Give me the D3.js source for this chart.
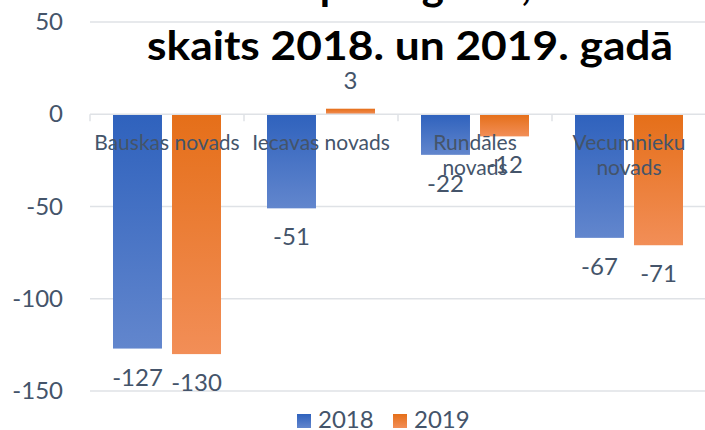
<!DOCTYPE html>
<html><head><meta charset="utf-8">
<script src="https://cdn.jsdelivr.net/npm/d3@7/dist/d3.min.js"></script>
<style>
html,body{margin:0;padding:0;background:#fff;}
svg{display:block;}
text{font-family:Lato,"Open Sans",sans-serif;}
</style></head>
<body>
<svg id="c" width="705" height="430"></svg>
<script>
const categories = ["Bauskas novads", "Iecavas novads", "Rundāles novads", "Vecumnieku novads"];
const seriesNames = ["2018", "2019"];
const values2018 = [-127, -51, -22, -67];
const values2019 = [-130, 3, -12, -71];
const yTicks = [50, 0, -50, -100, -150];
const titleLine1 = "Dabiskais pieaugums,";
const titleLine2 = "skaits 2018. un 2019. gadā";

const seriesValues = [values2018, values2019];
const colors = [["#2f62bd", "#6286cd"], ["#e56f19", "#f28e57"]];
const textColor = "#44546a";
const fmt = v => String(v); // plain hyphen-minus as in the reference

const svg = d3.select("#c");
const W = 705, H = 430;
const left = 90, right = 706;

const y = d3.scaleLinear().domain([-150, 50]).range([391, 22]);
const x0 = d3.scaleBand().domain(categories).range([left, right]).paddingInner(0).paddingOuter(0);
const x1 = d3.scaleBand().domain(seriesNames).range([23, x0.bandwidth() - 23]).paddingInner(0.17).paddingOuter(0);

// gradients
const defs = svg.append("defs");
seriesNames.forEach((s, i) => {
  const g = defs.append("linearGradient").attr("id", "g" + i)
    .attr("x1", 0).attr("y1", 0).attr("x2", 0).attr("y2", 1);
  g.append("stop").attr("offset", "0%").attr("stop-color", colors[i][0]);
  g.append("stop").attr("offset", "100%").attr("stop-color", colors[i][1]);
});

// gridlines
svg.append("g").selectAll("line").data(yTicks.filter(t => t !== 0)).join("line")
  .attr("x1", left).attr("x2", W)
  .attr("y1", d => y(d)).attr("y2", d => y(d))
  .attr("stroke", "#dfe2e6").attr("stroke-width", 1.5);

// y axis labels
const yAxis = d3.axisLeft(y).tickValues(yTicks).tickSize(0).tickPadding(0).tickFormat(fmt);
const yg = svg.append("g").attr("transform", `translate(63,0)`).call(yAxis);
yg.select(".domain").remove();
yg.selectAll("text").attr("fill", textColor).style("font-size", "24px").style("font-family", "Lato, 'Open Sans', sans-serif");

// title
const title = svg.append("g");
title.append("text").attr("x", 331).attr("y", 0).attr("text-anchor", "middle")
  .attr("font-weight", "bold").style("font-size", "42px").attr("fill", "#000")
  .text(titleLine1);
title.append("text").attr("x", 147).attr("y", 60)
  .attr("font-weight", "bold").style("font-size", "41px").attr("fill", "#000")
  .attr("textLength", 526).attr("lengthAdjust", "spacingAndGlyphs")
  .text(titleLine2);

// bars
const groups = svg.append("g").selectAll("g").data(categories).join("g")
  .attr("transform", d => `translate(${x0(d)},0)`);
groups.selectAll("rect").data((d, ci) => seriesNames.map((s, si) => ({s, si, v: seriesValues[si][ci]})))
  .join("rect")
  .attr("x", d => x1(d.s))
  .attr("width", x1.bandwidth())
  .attr("y", d => Math.min(y(0), y(d.v)))
  .attr("height", d => Math.abs(y(d.v) - y(0)))
  .attr("fill", d => `url(#g${d.si})`);

// zero axis line and category ticks
svg.append("line").attr("x1", left).attr("x2", W).attr("y1", y(0)).attr("y2", y(0))
  .attr("stroke", "#dfe2e6").attr("stroke-width", 1.5);
const tickXs = categories.map(c => x0(c)).concat([x0(categories[categories.length - 1]) + x0.bandwidth()]);
svg.append("g").selectAll("line").data(tickXs).join("line")
  .attr("x1", d => d).attr("x2", d => d)
  .attr("y1", y(0)).attr("y2", y(0) + 7)
  .attr("stroke", "#dfe2e6").attr("stroke-width", 1.5);

// category labels
svg.append("g").selectAll("text").data(categories).join("text")
  .attr("x", d => x0(d) + x0.bandwidth() / 2)
  .attr("y", 150)
  .attr("text-anchor", "middle")
  .attr("fill", textColor).style("font-size", "21px")
  .each(function(d) {
    const parts = d.length > 14 ? d.split(" ") : [d];
    const t = d3.select(this);
    parts.forEach((p, i) => {
      t.append("tspan").attr("x", x0(d) + x0.bandwidth() / 2).attr("dy", i === 0 ? 0 : 25).text(p);
    });
  });

// data labels
groups.selectAll("text.lbl").data((d, ci) => seriesNames.map((s, si) => ({s, si, v: seriesValues[si][ci]})))
  .join("text").attr("class", "lbl")
  .attr("x", d => x1(d.s) + x1.bandwidth() / 2)
  .attr("y", d => d.v < 0 ? y(d.v) + 37 : y(d.v) - 20)
  .attr("text-anchor", "middle")
  .attr("fill", textColor).style("font-size", "24px")
  .text(d => fmt(d.v));

// legend
const legend = svg.append("g");
const legX = [297, 393];
seriesNames.forEach((s, i) => {
  legend.append("rect").attr("x", legX[i]).attr("y", 414).attr("width", 14).attr("height", 14)
    .attr("fill", `url(#g${i})`);
  legend.append("text").attr("x", legX[i] + 21).attr("y", 428)
    .attr("fill", textColor).style("font-size", "24px").text(s);
});
</script>
</body></html>
